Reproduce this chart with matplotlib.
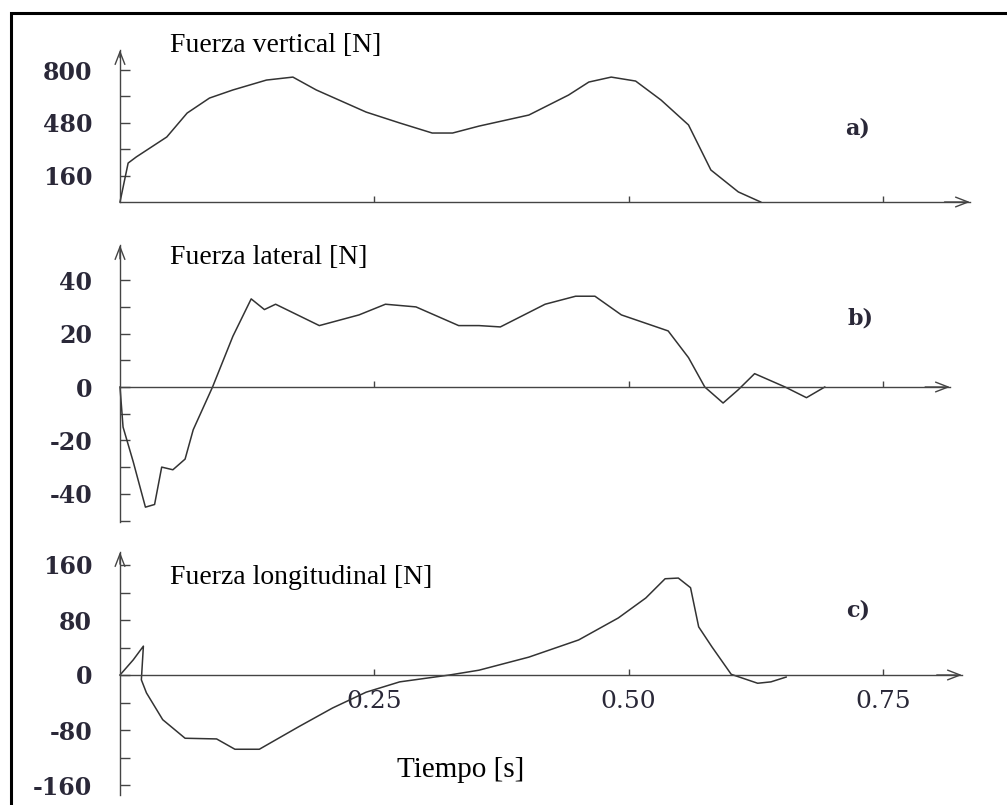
import matplotlib
matplotlib.use('Agg')
import matplotlib.pyplot as plt
from matplotlib.patches import Rectangle
from matplotlib.ticker import FixedLocator

plt.rcParams['axes.unicode_minus'] = False

# --- data (t in s, forces in N) ---
t_vert = [0.0, 0.008, 0.016, 0.046, 0.066, 0.088, 0.111, 0.144, 0.170, 0.193,
          0.242, 0.275, 0.307, 0.327, 0.353, 0.402, 0.441, 0.461, 0.483, 0.507,
          0.532, 0.559, 0.581, 0.608, 0.630]
f_vert = [0, 236, 273, 394, 539, 630, 679, 739, 757, 679,
          545, 479, 418, 418, 460, 527, 648, 727, 757, 733,
          618, 467, 194, 61, 0]

t_lat = [0.0, 0.003, 0.013, 0.025, 0.034, 0.041, 0.052, 0.064, 0.072, 0.091,
         0.111, 0.129, 0.142, 0.153, 0.196, 0.235, 0.261, 0.291, 0.333, 0.353,
         0.374, 0.418, 0.448, 0.467, 0.493, 0.539, 0.559, 0.575, 0.593, 0.608,
         0.624, 0.654, 0.675, 0.693]
f_lat = [0, -15, -28, -45, -44, -30, -31, -27, -16, 0,
         19, 33, 29, 31, 23, 27, 31, 30, 23, 23,
         22.5, 31, 34, 34, 27, 21, 11, 0, -6, -1,
         5, 0, -4, 0]

t_long = [0.0, 0.013, 0.023, 0.021, 0.026, 0.042, 0.064, 0.095, 0.113, 0.137,
          0.176, 0.209, 0.242, 0.275, 0.324, 0.353, 0.402, 0.451, 0.490, 0.517,
          0.536, 0.549, 0.561, 0.569, 0.582, 0.601, 0.627, 0.640, 0.655]
f_long = [0, 22, 42, -7, -26, -65, -92, -93, -108, -108,
          -75, -48, -25, -10, 0, 7, 26, 51, 83, 112,
          140, 141, 127, 70, 41, 1, -12, -10, -3]

titles = ['Fuerza vertical [N]', 'Fuerza lateral [N]', 'Fuerza longitudinal [N]']
tags = ['a)', 'b)', 'c)']
x_ticks = [0.25, 0.50, 0.75]
x_labels = ['0.25', '0.50', '0.75']

W, H = 1007, 805
PX = 1017.0  # px per second
ink = '#333333'
lab = '#2a2838'

fig = plt.figure(figsize=(W / 100, H / 100), dpi=100)
fig.patch.set_facecolor('white')

# frame (top + left only visible in the scan)
fig.patches.append(Rectangle((11 / W, -0.1), 1.2, 1 - 13 / H + 0.1,
                             transform=fig.transFigure, fill=False,
                             lw=2.2, ec='black'))


def panel(x_end, y_top, y_zero, y_bot, px_per_unit, major, minor, t, f,
          title, tag, tag_xy, title_y, xlab=False):
    ax = fig.add_axes([120 / W, 1 - y_bot / H, (x_end - 120) / W, (y_bot - y_top) / H])
    xmax = (x_end - 120) / PX
    ymin = -(y_bot - y_zero) / px_per_unit
    ymax = (y_zero - y_top) / px_per_unit
    ax.set_xlim(0, xmax)
    ax.set_ylim(ymin, ymax)
    ax.patch.set_alpha(0)
    for s in ['top', 'right']:
        ax.spines[s].set_visible(False)
    ax.spines['bottom'].set_position(('data', 0))
    ax.spines['left'].set_position(('data', 0))
    for s in ['bottom', 'left']:
        ax.spines[s].set_color('#444444')
        ax.spines[s].set_linewidth(1.0)
    # arrow heads
    ap = dict(arrowstyle='->,head_length=0.9,head_width=0.35', lw=1.0, color='#444444',
              shrinkA=0, shrinkB=0)
    ax.annotate('', xy=(xmax, 0), xytext=(xmax * 0.97, 0), arrowprops=ap,
                annotation_clip=False)
    ax.annotate('', xy=(0, ymax), xytext=(0, ymax - (ymax - ymin) * 0.05),
                arrowprops=ap, annotation_clip=False)

    ax.yaxis.set_major_locator(FixedLocator(major))
    ax.yaxis.set_minor_locator(FixedLocator(minor))
    ax.tick_params(axis='y', which='both', direction='in', length=7, width=1.0,
                   color='#444444', pad=20, labelsize=17, labelcolor=lab)
    for tl in ax.get_yticklabels():
        tl.set_fontfamily('DejaVu Serif')
        tl.set_fontweight('bold')

    ax.set_xticks(x_ticks)
    if xlab:
        ax.set_xticklabels(x_labels, fontfamily='DejaVu Serif', fontsize=18,
                           color=lab)
        ax.tick_params(axis='x', direction='in', length=4.5, width=1.0,
                       color='#444444', pad=11)
    else:
        ax.tick_params(axis='x', direction='in', length=4.5, width=1.0,
                       color='#444444', labelbottom=False)

    ax.plot(t, f, color=ink, lw=1.1, clip_on=False)

    fig.text(170 / W, 1 - title_y / H, title, fontfamily='Liberation Serif',
             fontsize=20, va='center', ha='left', color='black')
    fig.text(tag_xy[0] / W, 1 - tag_xy[1] / H, tag, fontfamily='DejaVu Serif',
             fontweight='bold', fontsize=16, va='center', ha='center', color=lab)
    return ax


panel(970, 50, 202, 202, 0.165, [160, 480, 800], [320, 640],
      t_vert, f_vert, titles[0], tags[0], (858, 128), 45)
panel(950, 245, 387, 522, 2.67, [-40, -20, 0, 20, 40], [-50, -30, -10, 10, 30],
      t_lat, f_lat, titles[1], tags[1], (860, 318), 258)
panel(962, 552, 675, 795, 0.6875, [-160, -80, 0, 80, 160], [-120, -40, 40, 120],
      t_long, f_long, titles[2], tags[2], (858, 610), 578, xlab=True)

fig.text(461 / W, 1 - 770 / H, 'Tiempo [s]', fontfamily='Liberation Serif',
         fontsize=21, va='center', ha='center', color='black')

fig.savefig('out.png', dpi=100, facecolor='white')
